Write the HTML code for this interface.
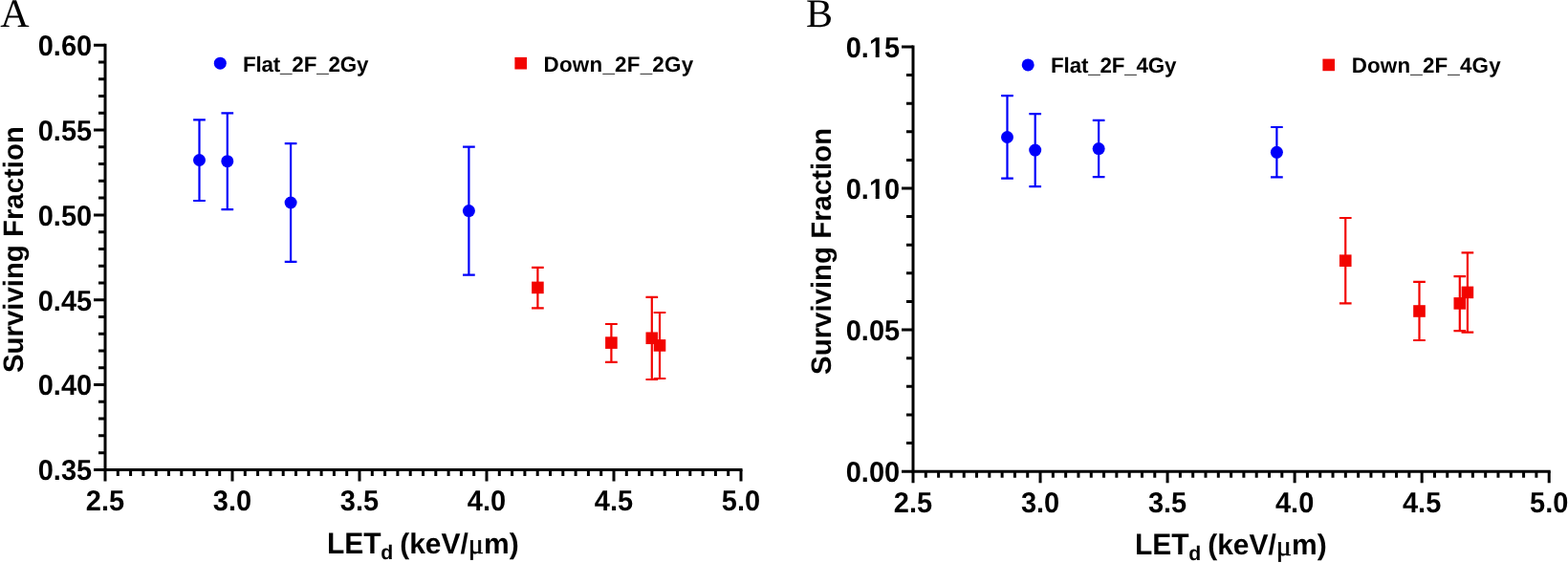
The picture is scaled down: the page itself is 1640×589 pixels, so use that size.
<!DOCTYPE html>
<html><head><meta charset="utf-8"><style>
html,body{margin:0;padding:0;background:#fff;overflow:hidden;}
svg{display:block;}
text{text-rendering:geometricPrecision;font-family:"Liberation Sans",Arial,sans-serif;font-weight:bold;fill:#000;}
.tk{font-size:29px;}
.lg{font-size:22.4px;}
.tt{font-size:30px;}.yt{font-size:29.4px;}
.sub{font-size:21.2px;}
.mu{font-family:"Liberation Serif","DejaVu Serif",serif;font-weight:normal;stroke:#000;stroke-width:0.6px;}
.pl{font-family:"Liberation Serif","Times New Roman",serif;font-weight:normal;font-size:42px;}
</style></head><body>
<svg width="1640" height="589" viewBox="0 0 1640 589">
<rect width="1640" height="589" fill="#fff"/>
<path d="M110.00 45.70V491.40H776.50" fill="none" stroke="#000" stroke-width="3.0" stroke-linejoin="miter"/>
<path d="M98.00 491.40H110.00M98.00 402.56H110.00M98.00 313.72H110.00M98.00 224.88H110.00M98.00 136.04H110.00M98.00 47.20H110.00M103.00 473.63H110.00M103.00 455.86H110.00M103.00 438.10H110.00M103.00 420.33H110.00M103.00 384.79H110.00M103.00 367.02H110.00M103.00 349.26H110.00M103.00 331.49H110.00M103.00 295.95H110.00M103.00 278.18H110.00M103.00 260.42H110.00M103.00 242.65H110.00M103.00 207.11H110.00M103.00 189.34H110.00M103.00 171.58H110.00M103.00 153.81H110.00M103.00 118.27H110.00M103.00 100.50H110.00M103.00 82.74H110.00M103.00 64.97H110.00M110.00 491.40V503.40M243.00 491.40V503.40M376.00 491.40V503.40M509.00 491.40V503.40M642.00 491.40V503.40M775.00 491.40V503.40M123.30 491.40V497.90M136.60 491.40V497.90M149.90 491.40V497.90M163.20 491.40V497.90M176.50 491.40V497.90M189.80 491.40V497.90M203.10 491.40V497.90M216.40 491.40V497.90M229.70 491.40V497.90M256.30 491.40V497.90M269.60 491.40V497.90M282.90 491.40V497.90M296.20 491.40V497.90M309.50 491.40V497.90M322.80 491.40V497.90M336.10 491.40V497.90M349.40 491.40V497.90M362.70 491.40V497.90M389.30 491.40V497.90M402.60 491.40V497.90M415.90 491.40V497.90M429.20 491.40V497.90M442.50 491.40V497.90M455.80 491.40V497.90M469.10 491.40V497.90M482.40 491.40V497.90M495.70 491.40V497.90M522.30 491.40V497.90M535.60 491.40V497.90M548.90 491.40V497.90M562.20 491.40V497.90M575.50 491.40V497.90M588.80 491.40V497.90M602.10 491.40V497.90M615.40 491.40V497.90M628.70 491.40V497.90M655.30 491.40V497.90M668.60 491.40V497.90M681.90 491.40V497.90M695.20 491.40V497.90M708.50 491.40V497.90M721.80 491.40V497.90M735.10 491.40V497.90M748.40 491.40V497.90M761.70 491.40V497.90" fill="none" stroke="#000" stroke-width="3.0"/>
<text x="96.20" y="502.30" text-anchor="end" class="tk" transform="matrix(1 0 0 1.04 0 -20.092)">0.35</text>
<text x="96.20" y="413.46" text-anchor="end" class="tk" transform="matrix(1 0 0 1.04 0 -16.538)">0.40</text>
<text x="96.20" y="324.62" text-anchor="end" class="tk" transform="matrix(1 0 0 1.04 0 -12.985)">0.45</text>
<text x="96.20" y="235.78" text-anchor="end" class="tk" transform="matrix(1 0 0 1.04 0 -9.431)">0.50</text>
<text x="96.20" y="146.94" text-anchor="end" class="tk" transform="matrix(1 0 0 1.04 0 -5.878)">0.55</text>
<text x="96.20" y="58.10" text-anchor="end" class="tk" transform="matrix(1 0 0 1.04 0 -2.324)">0.60</text>
<text x="110.00" y="533.90" text-anchor="middle" class="tk" transform="matrix(1 0 0 1.04 0 -21.356)">2.5</text>
<text x="243.00" y="533.90" text-anchor="middle" class="tk" transform="matrix(1 0 0 1.04 0 -21.356)">3.0</text>
<text x="376.00" y="533.90" text-anchor="middle" class="tk" transform="matrix(1 0 0 1.04 0 -21.356)">3.5</text>
<text x="509.00" y="533.90" text-anchor="middle" class="tk" transform="matrix(1 0 0 1.04 0 -21.356)">4.0</text>
<text x="642.00" y="533.90" text-anchor="middle" class="tk" transform="matrix(1 0 0 1.04 0 -21.356)">4.5</text>
<text x="775.00" y="533.90" text-anchor="middle" class="tk" transform="matrix(1 0 0 1.04 0 -21.356)">5.0</text>
<path d="M955.00 47.40V493.20H1621.70" fill="none" stroke="#000" stroke-width="3.0" stroke-linejoin="miter"/>
<path d="M943.00 493.20H955.00M943.00 345.10H955.00M943.00 197.00H955.00M943.00 48.90H955.00M948.00 463.58H955.00M948.00 433.96H955.00M948.00 404.34H955.00M948.00 374.72H955.00M948.00 315.48H955.00M948.00 285.86H955.00M948.00 256.24H955.00M948.00 226.62H955.00M948.00 167.38H955.00M948.00 137.76H955.00M948.00 108.14H955.00M948.00 78.52H955.00M955.00 493.20V505.20M1088.04 493.20V505.20M1221.08 493.20V505.20M1354.12 493.20V505.20M1487.16 493.20V505.20M1620.20 493.20V505.20M968.30 493.20V499.70M981.61 493.20V499.70M994.91 493.20V499.70M1008.22 493.20V499.70M1021.52 493.20V499.70M1034.82 493.20V499.70M1048.13 493.20V499.70M1061.43 493.20V499.70M1074.74 493.20V499.70M1101.34 493.20V499.70M1114.65 493.20V499.70M1127.95 493.20V499.70M1141.26 493.20V499.70M1154.56 493.20V499.70M1167.86 493.20V499.70M1181.17 493.20V499.70M1194.47 493.20V499.70M1207.78 493.20V499.70M1234.38 493.20V499.70M1247.69 493.20V499.70M1260.99 493.20V499.70M1274.30 493.20V499.70M1287.60 493.20V499.70M1300.90 493.20V499.70M1314.21 493.20V499.70M1327.51 493.20V499.70M1340.82 493.20V499.70M1367.42 493.20V499.70M1380.73 493.20V499.70M1394.03 493.20V499.70M1407.34 493.20V499.70M1420.64 493.20V499.70M1433.94 493.20V499.70M1447.25 493.20V499.70M1460.55 493.20V499.70M1473.86 493.20V499.70M1500.46 493.20V499.70M1513.77 493.20V499.70M1527.07 493.20V499.70M1540.38 493.20V499.70M1553.68 493.20V499.70M1566.98 493.20V499.70M1580.29 493.20V499.70M1593.59 493.20V499.70M1606.90 493.20V499.70" fill="none" stroke="#000" stroke-width="3.0"/>
<text x="941.20" y="504.10" text-anchor="end" class="tk" transform="matrix(1 0 0 1.04 0 -20.164)">0.00</text>
<text x="941.20" y="356.00" text-anchor="end" class="tk" transform="matrix(1 0 0 1.04 0 -14.240)">0.05</text>
<text x="941.20" y="207.90" text-anchor="end" class="tk" transform="matrix(1 0 0 1.04 0 -8.316)">0.10</text>
<rect x="909.94" y="204.60" width="5.77" height="4.3" fill="#fff"/>
<rect x="919.69" y="204.60" width="5.57" height="4.3" fill="#fff"/>
<text x="941.20" y="59.80" text-anchor="end" class="tk" transform="matrix(1 0 0 1.04 0 -2.392)">0.15</text>
<rect x="909.94" y="56.50" width="5.77" height="4.3" fill="#fff"/>
<rect x="919.69" y="56.50" width="5.57" height="4.3" fill="#fff"/>
<text x="955.00" y="535.70" text-anchor="middle" class="tk" transform="matrix(1 0 0 1.04 0 -21.428)">2.5</text>
<text x="1088.04" y="535.70" text-anchor="middle" class="tk" transform="matrix(1 0 0 1.04 0 -21.428)">3.0</text>
<text x="1221.08" y="535.70" text-anchor="middle" class="tk" transform="matrix(1 0 0 1.04 0 -21.428)">3.5</text>
<text x="1354.12" y="535.70" text-anchor="middle" class="tk" transform="matrix(1 0 0 1.04 0 -21.428)">4.0</text>
<text x="1487.16" y="535.70" text-anchor="middle" class="tk" transform="matrix(1 0 0 1.04 0 -21.428)">4.5</text>
<text x="1620.20" y="535.70" text-anchor="middle" class="tk" transform="matrix(1 0 0 1.04 0 -21.428)">5.0</text>
<path d="M208.50 125.40V210.00M202.15 125.40H214.85M202.15 210.00H214.85" fill="none" stroke="#0000fa" stroke-width="2.2"/>
<path d="M237.80 118.40V219.10M231.45 118.40H244.15M231.45 219.10H244.15" fill="none" stroke="#0000fa" stroke-width="2.2"/>
<path d="M304.10 150.05V273.90M297.75 150.05H310.45M297.75 273.90H310.45" fill="none" stroke="#0000fa" stroke-width="2.2"/>
<path d="M490.40 153.70V287.60M484.05 153.70H496.75M484.05 287.60H496.75" fill="none" stroke="#0000fa" stroke-width="2.2"/>
<path d="M562.40 279.90V322.40M556.05 279.90H568.75M556.05 322.40H568.75" fill="none" stroke="#f20400" stroke-width="2.2"/>
<path d="M639.40 339.00V378.90M633.05 339.00H645.75M633.05 378.90H645.75" fill="none" stroke="#f20400" stroke-width="2.2"/>
<path d="M681.80 310.90V397.00M675.45 310.90H688.15M675.45 397.00H688.15" fill="none" stroke="#f20400" stroke-width="2.2"/>
<path d="M690.00 327.00V396.00M683.65 327.00H696.35M683.65 396.00H696.35" fill="none" stroke="#f20400" stroke-width="2.2"/>
<circle cx="208.50" cy="167.50" r="6.5" fill="#0000fa"/>
<circle cx="237.80" cy="168.70" r="6.5" fill="#0000fa"/>
<circle cx="304.10" cy="212.00" r="6.5" fill="#0000fa"/>
<circle cx="490.40" cy="220.60" r="6.5" fill="#0000fa"/>
<rect x="556.10" y="294.60" width="12.6" height="12.6" fill="#f20400"/>
<rect x="633.10" y="352.30" width="12.6" height="12.6" fill="#f20400"/>
<rect x="675.50" y="347.45" width="12.6" height="12.6" fill="#f20400"/>
<rect x="683.70" y="355.10" width="12.6" height="12.6" fill="#f20400"/>
<path d="M1053.50 100.20V186.60M1047.15 100.20H1059.85M1047.15 186.60H1059.85" fill="none" stroke="#0000fa" stroke-width="2.2"/>
<path d="M1082.70 119.20V195.10M1076.35 119.20H1089.05M1076.35 195.10H1089.05" fill="none" stroke="#0000fa" stroke-width="2.2"/>
<path d="M1149.15 125.85V185.20M1142.80 125.85H1155.50M1142.80 185.20H1155.50" fill="none" stroke="#0000fa" stroke-width="2.2"/>
<path d="M1335.40 133.00V185.40M1329.05 133.00H1341.75M1329.05 185.40H1341.75" fill="none" stroke="#0000fa" stroke-width="2.2"/>
<path d="M1407.25 228.00V317.40M1400.90 228.00H1413.60M1400.90 317.40H1413.60" fill="none" stroke="#f20400" stroke-width="2.2"/>
<path d="M1484.50 294.80V356.00M1478.15 294.80H1490.85M1478.15 356.00H1490.85" fill="none" stroke="#f20400" stroke-width="2.2"/>
<path d="M1526.80 289.10V346.20M1520.45 289.10H1533.15M1520.45 346.20H1533.15" fill="none" stroke="#f20400" stroke-width="2.2"/>
<path d="M1534.90 264.30V347.70M1528.55 264.30H1541.25M1528.55 347.70H1541.25" fill="none" stroke="#f20400" stroke-width="2.2"/>
<circle cx="1053.50" cy="143.50" r="6.5" fill="#0000fa"/>
<circle cx="1082.70" cy="157.10" r="6.5" fill="#0000fa"/>
<circle cx="1149.15" cy="155.55" r="6.5" fill="#0000fa"/>
<circle cx="1335.40" cy="159.35" r="6.5" fill="#0000fa"/>
<rect x="1400.95" y="266.40" width="12.6" height="12.6" fill="#f20400"/>
<rect x="1478.20" y="319.20" width="12.6" height="12.6" fill="#f20400"/>
<rect x="1520.50" y="311.10" width="12.6" height="12.6" fill="#f20400"/>
<rect x="1528.60" y="299.60" width="12.6" height="12.6" fill="#f20400"/>
<circle cx="230.30" cy="66.20" r="6.5" fill="#0000fa"/>
<text x="253.90" y="74.60" class="lg" textLength="131.52" lengthAdjust="spacing">Flat_2F_2Gy</text>
<rect x="538.40" y="59.90" width="12.6" height="12.6" fill="#f20400"/>
<text x="568.50" y="74.50" class="lg" textLength="156.62" lengthAdjust="spacing">Down_2F_2Gy</text>
<circle cx="1075.20" cy="67.90" r="6.5" fill="#0000fa"/>
<text x="1099.10" y="76.20" class="lg" textLength="131.32" lengthAdjust="spacing">Flat_2F_4Gy</text>
<rect x="1383.40" y="61.60" width="12.6" height="12.6" fill="#f20400"/>
<text x="1413.70" y="76.20" class="lg" textLength="155.92" lengthAdjust="spacing">Down_2F_4Gy</text>
<text x="0.3" y="27.8" class="pl">A</text>
<text x="843" y="28.3" class="pl">B</text>
<text transform="translate(23.90 261.10) rotate(-90)" x="0" y="0" text-anchor="middle" class="yt">Surviving Fraction</text>
<text transform="translate(868.90 262.90) rotate(-90)" x="0" y="0" text-anchor="middle" class="yt">Surviving Fraction</text>
<text x="342.00" y="578.60" class="tt" transform="matrix(1 0 0 1.04 0 -23.144)">LET</text>
<text x="398.30" y="584.60" class="sub">d</text>
<text x="418.20" y="578.60" class="tt">(keV/</text>
<text x="489.80" y="578.80" class="tt mu">μ</text>
<text x="506.00" y="578.60" class="tt">m)</text>
<text x="1187.00" y="580.40" class="tt" transform="matrix(1 0 0 1.04 0 -23.216)">LET</text>
<text x="1243.30" y="586.40" class="sub">d</text>
<text x="1263.20" y="580.40" class="tt">(keV/</text>
<text x="1334.80" y="580.60" class="tt mu">μ</text>
<text x="1351.00" y="580.40" class="tt">m)</text>
</svg>
</body></html>
